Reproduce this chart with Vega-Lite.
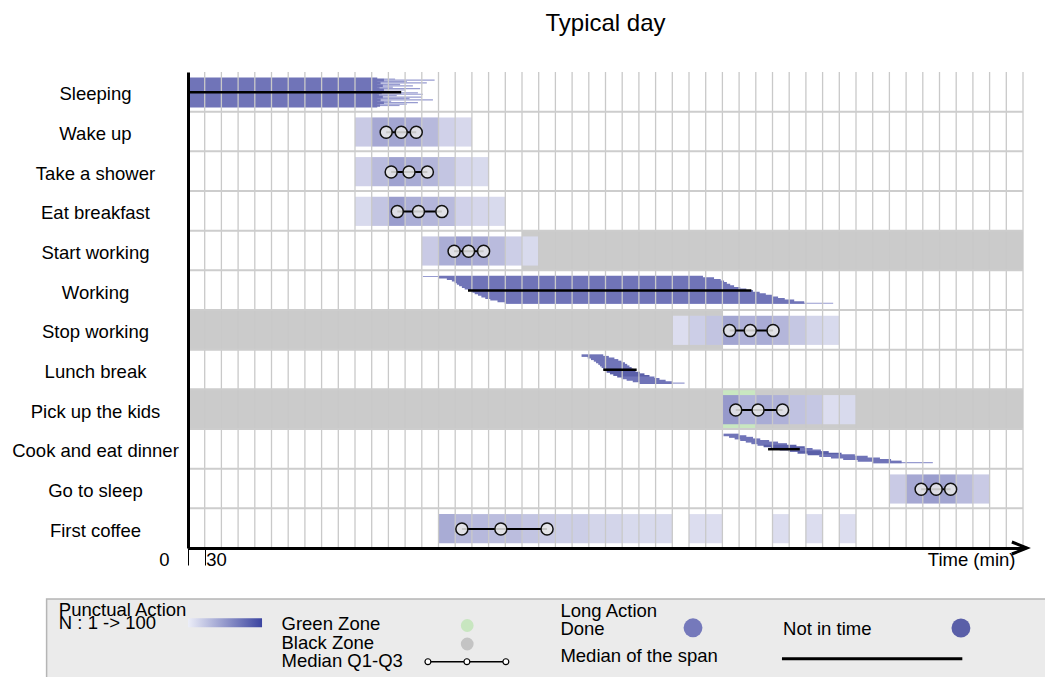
{
  "$schema": "https://vega.github.io/schema/vega-lite/v6.json",
  "width": 835,
  "height": 476,
  "autosize": {"type": "none"},
  "padding": {"left": 188, "top": 72, "right": 22, "bottom": 129},
  "background": "white",
  "config": {"font": "Liberation Sans", "view": {"stroke": null}},
  "title": {"text": "Typical day", "fontSize": 24, "fontWeight": "normal", "font": "Liberation Sans", "color": "black", "anchor": "middle", "frame": "group", "baseline": "alphabetic", "offset": 16},
  "datasets": {
    "zones": [
      {"row": 4, "t0": 600, "t1": 1500, "kind": "black"},
      {"row": 6, "t0": 0, "t1": 960, "kind": "black"},
      {"row": 8, "t0": 0, "t1": 960, "kind": "black"},
      {"row": 8, "t0": 1020, "t1": 1500, "kind": "black"},
      {"row": 8, "t0": 960, "t1": 1020, "kind": "green"}
    ],
    "cells": [
      {"row": 1, "t0": 300, "t1": 330, "n": 18}, {"row": 1, "t0": 330, "t1": 360, "n": 38}, {"row": 1, "t0": 360, "t1": 390, "n": 40}, {"row": 1, "t0": 390, "t1": 420, "n": 38}, {"row": 1, "t0": 420, "t1": 450, "n": 28}, {"row": 1, "t0": 450, "t1": 480, "n": 14}, {"row": 1, "t0": 480, "t1": 510, "n": 10},
      {"row": 2, "t0": 300, "t1": 330, "n": 14}, {"row": 2, "t0": 330, "t1": 360, "n": 27}, {"row": 2, "t0": 360, "t1": 390, "n": 42}, {"row": 2, "t0": 390, "t1": 420, "n": 36}, {"row": 2, "t0": 420, "t1": 450, "n": 30}, {"row": 2, "t0": 450, "t1": 480, "n": 21}, {"row": 2, "t0": 480, "t1": 510, "n": 11}, {"row": 2, "t0": 510, "t1": 540, "n": 9},
      {"row": 3, "t0": 300, "t1": 330, "n": 9}, {"row": 3, "t0": 330, "t1": 360, "n": 21}, {"row": 3, "t0": 360, "t1": 390, "n": 45}, {"row": 3, "t0": 390, "t1": 420, "n": 35}, {"row": 3, "t0": 420, "t1": 450, "n": 30}, {"row": 3, "t0": 450, "t1": 480, "n": 27}, {"row": 3, "t0": 480, "t1": 510, "n": 14}, {"row": 3, "t0": 510, "t1": 540, "n": 11}, {"row": 3, "t0": 540, "t1": 570, "n": 9},
      {"row": 4, "t0": 420, "t1": 450, "n": 18}, {"row": 4, "t0": 450, "t1": 480, "n": 35}, {"row": 4, "t0": 480, "t1": 510, "n": 44}, {"row": 4, "t0": 510, "t1": 540, "n": 38}, {"row": 4, "t0": 540, "t1": 570, "n": 27}, {"row": 4, "t0": 570, "t1": 600, "n": 16}, {"row": 4, "t0": 600, "t1": 630, "n": 9},
      {"row": 6, "t0": 870, "t1": 900, "n": 7}, {"row": 6, "t0": 900, "t1": 930, "n": 16}, {"row": 6, "t0": 930, "t1": 960, "n": 22}, {"row": 6, "t0": 960, "t1": 990, "n": 40}, {"row": 6, "t0": 990, "t1": 1020, "n": 33}, {"row": 6, "t0": 1020, "t1": 1050, "n": 36}, {"row": 6, "t0": 1050, "t1": 1080, "n": 30}, {"row": 6, "t0": 1080, "t1": 1110, "n": 20}, {"row": 6, "t0": 1110, "t1": 1140, "n": 12}, {"row": 6, "t0": 1140, "t1": 1170, "n": 9},
      {"row": 8, "t0": 960, "t1": 990, "n": 47}, {"row": 8, "t0": 990, "t1": 1020, "n": 32}, {"row": 8, "t0": 1020, "t1": 1050, "n": 36}, {"row": 8, "t0": 1050, "t1": 1080, "n": 33}, {"row": 8, "t0": 1080, "t1": 1110, "n": 23}, {"row": 8, "t0": 1110, "t1": 1140, "n": 20}, {"row": 8, "t0": 1140, "t1": 1170, "n": 7}, {"row": 8, "t0": 1170, "t1": 1200, "n": 9},
      {"row": 10, "t0": 1260, "t1": 1290, "n": 18}, {"row": 10, "t0": 1290, "t1": 1320, "n": 38}, {"row": 10, "t0": 1320, "t1": 1350, "n": 45}, {"row": 10, "t0": 1350, "t1": 1380, "n": 40}, {"row": 10, "t0": 1380, "t1": 1410, "n": 27}, {"row": 10, "t0": 1410, "t1": 1440, "n": 18},
      {"row": 11, "t0": 450, "t1": 480, "n": 36}, {"row": 11, "t0": 480, "t1": 510, "n": 30}, {"row": 11, "t0": 510, "t1": 540, "n": 28}, {"row": 11, "t0": 540, "t1": 570, "n": 26}, {"row": 11, "t0": 570, "t1": 600, "n": 26}, {"row": 11, "t0": 600, "t1": 630, "n": 21}, {"row": 11, "t0": 630, "t1": 660, "n": 18}, {"row": 11, "t0": 660, "t1": 690, "n": 16}, {"row": 11, "t0": 690, "t1": 720, "n": 16}, {"row": 11, "t0": 720, "t1": 750, "n": 12}, {"row": 11, "t0": 750, "t1": 780, "n": 12}, {"row": 11, "t0": 780, "t1": 810, "n": 9}, {"row": 11, "t0": 810, "t1": 840, "n": 9}, {"row": 11, "t0": 840, "t1": 870, "n": 9}, {"row": 11, "t0": 900, "t1": 930, "n": 7}, {"row": 11, "t0": 930, "t1": 960, "n": 7}, {"row": 11, "t0": 1050, "t1": 1080, "n": 7}, {"row": 11, "t0": 1110, "t1": 1140, "n": 7}, {"row": 11, "t0": 1170, "t1": 1200, "n": 7}
    ],
    "quartiles": [
      {"row": 1, "q1": 356, "med": 383, "q3": 410},
      {"row": 2, "q1": 365, "med": 397, "q3": 430},
      {"row": 3, "q1": 376, "med": 414, "q3": 456},
      {"row": 4, "q1": 478, "med": 504, "q3": 531},
      {"row": 6, "q1": 973, "med": 1010, "q3": 1051},
      {"row": 8, "q1": 984, "med": 1024, "q3": 1068},
      {"row": 10, "q1": 1317, "med": 1344, "q3": 1370},
      {"row": 11, "q1": 492, "med": 562, "q3": 645}
    ],
    "people": [
      {"p": 0.17, "start": 0, "end": 340, "status": "done"}, {"p": 0.2055, "start": 0, "end": 352, "status": "done"}, {"p": 0.241, "start": 0, "end": 340, "status": "done"}, {"p": 0.2765, "start": 0, "end": 346, "status": "done"},
      {"p": 0.312, "start": 0, "end": 340, "status": "done"}, {"p": 0.3475, "start": 0, "end": 350, "status": "done"}, {"p": 0.383, "start": 0, "end": 340, "status": "done"}, {"p": 0.4185, "start": 0, "end": 344, "status": "done"},
      {"p": 0.454, "start": 0, "end": 352, "status": "done"}, {"p": 0.4895, "start": 0, "end": 340, "status": "done"}, {"p": 0.525, "start": 0, "end": 348, "status": "done"}, {"p": 0.5605, "start": 0, "end": 340, "status": "done"},
      {"p": 0.596, "start": 0, "end": 343, "status": "done"}, {"p": 0.6315, "start": 0, "end": 350, "status": "done"}, {"p": 0.667, "start": 0, "end": 340, "status": "done"}, {"p": 0.7025, "start": 0, "end": 346, "status": "done"},
      {"p": 0.738, "start": 0, "end": 340, "status": "done"}, {"p": 0.7735, "start": 0, "end": 352, "status": "done"}, {"p": 0.809, "start": 0, "end": 340, "status": "done"}, {"p": 0.8445, "start": 0, "end": 345, "status": "done"}, {"p": 0.865, "start": 0, "end": 340, "status": "done"},
      {"p": 5.17, "start": 450, "end": 925, "status": "done"}, {"p": 5.21, "start": 465, "end": 945, "status": "done"}, {"p": 5.25, "start": 474, "end": 957, "status": "done"}, {"p": 5.29, "start": 479, "end": 963, "status": "done"},
      {"p": 5.33, "start": 483, "end": 968, "status": "done"}, {"p": 5.37, "start": 487, "end": 974, "status": "done"}, {"p": 5.41, "start": 492, "end": 981, "status": "done"}, {"p": 5.45, "start": 497, "end": 992, "status": "done"},
      {"p": 5.49, "start": 503, "end": 1003, "status": "done"}, {"p": 5.53, "start": 509, "end": 1015, "status": "done"}, {"p": 5.57, "start": 515, "end": 1027, "status": "done"}, {"p": 5.61, "start": 521, "end": 1038, "status": "done"},
      {"p": 5.65, "start": 527, "end": 1049, "status": "done"}, {"p": 5.69, "start": 534, "end": 1060, "status": "done"}, {"p": 5.73, "start": 543, "end": 1072, "status": "done"}, {"p": 5.77, "start": 556, "end": 1089, "status": "done"},
      {"p": 5.81, "start": 569, "end": 1107, "status": "done"},
      {"p": 7.15, "start": 707, "end": 746, "status": "done"}, {"p": 7.19, "start": 718, "end": 756, "status": "done"}, {"p": 7.23, "start": 724, "end": 766, "status": "done"}, {"p": 7.27, "start": 729, "end": 773, "status": "done"},
      {"p": 7.31, "start": 733, "end": 779, "status": "done"}, {"p": 7.35, "start": 737, "end": 785, "status": "done"}, {"p": 7.39, "start": 740, "end": 789, "status": "done"}, {"p": 7.43, "start": 743, "end": 793, "status": "done"},
      {"p": 7.47, "start": 746, "end": 797, "status": "done"}, {"p": 7.51, "start": 749, "end": 800, "status": "late"}, {"p": 7.55, "start": 752, "end": 804, "status": "late"}, {"p": 7.59, "start": 758, "end": 812, "status": "late"},
      {"p": 7.63, "start": 764, "end": 820, "status": "late"}, {"p": 7.67, "start": 771, "end": 829, "status": "late"}, {"p": 7.71, "start": 779, "end": 838, "status": "done"}, {"p": 7.75, "start": 788, "end": 847, "status": "done"},
      {"p": 7.79, "start": 799, "end": 858, "status": "done"}, {"p": 7.83, "start": 811, "end": 870, "status": "done"},
      {"p": 9.15, "start": 962, "end": 990, "status": "done"}, {"p": 9.19, "start": 972, "end": 1003, "status": "done"}, {"p": 9.23, "start": 982, "end": 1015, "status": "done"}, {"p": 9.27, "start": 992, "end": 1028, "status": "done"},
      {"p": 9.31, "start": 1002, "end": 1044, "status": "done"}, {"p": 9.35, "start": 1012, "end": 1060, "status": "done"}, {"p": 9.39, "start": 1023, "end": 1076, "status": "done"}, {"p": 9.43, "start": 1034, "end": 1093, "status": "late"},
      {"p": 9.47, "start": 1047, "end": 1108, "status": "late"}, {"p": 9.51, "start": 1063, "end": 1122, "status": "done"}, {"p": 9.55, "start": 1079, "end": 1137, "status": "done"}, {"p": 9.59, "start": 1095, "end": 1151, "status": "late"},
      {"p": 9.63, "start": 1113, "end": 1174, "status": "late"}, {"p": 9.67, "start": 1134, "end": 1198, "status": "done"}, {"p": 9.71, "start": 1155, "end": 1221, "status": "done"}, {"p": 9.75, "start": 1177, "end": 1243, "status": "done"},
      {"p": 9.79, "start": 1203, "end": 1263, "status": "done"}, {"p": 9.83, "start": 1230, "end": 1282, "status": "done"}
    ],
    "thin": [
      {"p": 0.18, "start": 330, "end": 372}, {"p": 0.2055, "start": 330, "end": 443}, {"p": 0.241, "start": 330, "end": 393}, {"p": 0.2765, "start": 330, "end": 429},
      {"p": 0.312, "start": 330, "end": 381}, {"p": 0.3475, "start": 330, "end": 404}, {"p": 0.383, "start": 330, "end": 368}, {"p": 0.4185, "start": 330, "end": 417},
      {"p": 0.454, "start": 330, "end": 390}, {"p": 0.4895, "start": 330, "end": 360}, {"p": 0.525, "start": 330, "end": 413}, {"p": 0.5605, "start": 330, "end": 422},
      {"p": 0.596, "start": 330, "end": 375}, {"p": 0.6315, "start": 330, "end": 420}, {"p": 0.667, "start": 330, "end": 398}, {"p": 0.7025, "start": 330, "end": 440},
      {"p": 0.738, "start": 330, "end": 365}, {"p": 0.7735, "start": 330, "end": 413}, {"p": 0.809, "start": 330, "end": 393}, {"p": 0.8445, "start": 330, "end": 380},
      {"p": 5.155, "start": 422, "end": 925}, {"p": 5.83, "start": 572, "end": 1159},
      {"p": 7.845, "start": 811, "end": 892},
      {"p": 9.85, "start": 1230, "end": 1338}
    ],
    "medians": [
      {"row": 0, "t0": 0, "t1": 383},
      {"row": 5, "t0": 503, "t1": 1012},
      {"row": 7, "t0": 746, "t1": 806},
      {"row": 9, "t0": 1042, "t1": 1099}
    ],
    "vgrid": [
      {"t": 30}, {"t": 60}, {"t": 90}, {"t": 120}, {"t": 150}, {"t": 180}, {"t": 210}, {"t": 240}, {"t": 270}, {"t": 300},
      {"t": 330}, {"t": 360}, {"t": 390}, {"t": 420}, {"t": 450}, {"t": 480}, {"t": 510}, {"t": 540}, {"t": 570}, {"t": 600},
      {"t": 630}, {"t": 660}, {"t": 690}, {"t": 720}, {"t": 750}, {"t": 780}, {"t": 810}, {"t": 840}, {"t": 870}, {"t": 900},
      {"t": 930}, {"t": 960}, {"t": 990}, {"t": 1020}, {"t": 1050}, {"t": 1080}, {"t": 1110}, {"t": 1140}, {"t": 1170}, {"t": 1200},
      {"t": 1230}, {"t": 1260}, {"t": 1290}, {"t": 1320}, {"t": 1350}, {"t": 1380}, {"t": 1410}, {"t": 1440}, {"t": 1470}, {"t": 1500}
    ],
    "hgrid": [
      {"r": 1}, {"r": 2}, {"r": 3}, {"r": 4}, {"r": 5}, {"r": 6}, {"r": 7}, {"r": 8}, {"r": 9}, {"r": 10}, {"r": 11}
    ],
    "legendText": [
      {"label": "Punctual Action", "lx": -232, "ly": 13.714},
      {"label": "N : 1 -> 100", "lx": -232, "ly": 14.04},
      {"label": "Green Zone", "lx": 168, "ly": 14.055},
      {"label": "Black Zone", "lx": 168, "ly": 14.534},
      {"label": "Median Q1-Q3", "lx": 168, "ly": 15.012},
      {"label": "Long Action", "lx": 669, "ly": 13.727},
      {"label": "Done", "lx": 669, "ly": 14.193},
      {"label": "Median of the span", "lx": 669, "ly": 14.866},
      {"label": "Not in time", "lx": 1069, "ly": 14.193}
    ]
  },
  "layer": [
    {
      "data": {"name": "zones"},
      "mark": {"type": "rect", "y2Offset": 39.667},
      "encoding": {
        "x": {"field": "t0", "type": "quantitative",
          "scale": {"domain": [0, 1500], "nice": false, "zero": false},
          "axis": {
            "values": [0, 30], "grid": false, "zindex": 1,
            "title": "Time (min)", "titleFontSize": 18.5, "titleFontWeight": "normal", "titleColor": "black", "titleFont": "Liberation Sans",
            "titleAnchor": "end", "titleAlign": "right", "titleBaseline": "alphabetic", "titleX": 827, "titleY": 17,
            "domainColor": "black", "domainWidth": 3,
            "tickColor": "black", "tickSize": 17, "tickWidth": 1,
            "labelFontSize": 18.5, "labelColor": "black", "labelFont": "Liberation Sans", "labelBaseline": "alphabetic", "labelPadding": 0,
            "labelAlign": {"condition": {"test": "datum.value === 0", "value": "right"}, "value": "left"},
            "labelOffset": {"condition": {"test": "datum.value === 0", "value": -19}, "value": 1},
            "labelFlush": false, "labelOverlap": false, "labelBound": false
          }
        },
        "x2": {"field": "t1"},
        "y": {"field": "row", "type": "quantitative",
          "scale": {"domain": [0, 12], "reverse": true, "nice": false, "zero": false},
          "axis": {
            "values": [0.5, 1.5, 2.5, 3.5, 4.5, 5.5, 6.5, 7.5, 8.5, 9.5, 10.5, 11.5],
            "labelExpr": "['Sleeping','Wake up','Take a shower','Eat breakfast','Start working','Working','Stop working','Lunch break','Pick up the kids','Cook and eat dinner','Go to sleep','First coffee'][floor(datum.value)]",
            "title": null, "ticks": false, "grid": false, "zindex": 1,
            "domainColor": "black", "domainWidth": 3,
            "labelFontSize": 18.5, "labelColor": "black", "labelFont": "Liberation Sans",
            "labelAlign": "center", "labelBaseline": "middle", "labelPadding": 93, "labelOffset": 2,
            "labelOverlap": false, "labelBound": false, "labelLimit": 0
          }
        },
        "y2": {"field": "row"},
        "color": {"field": "kind", "type": "nominal", "scale": {"domain": ["black", "green"], "range": ["#cbcbcb", "#c9e7c1"]}, "legend": null}
      }
    },
    {
      "data": {"name": "cells"},
      "mark": {"type": "rect", "yOffset": 5.75, "y2Offset": 34.9},
      "encoding": {
        "x": {"field": "t0", "type": "quantitative"},
        "x2": {"field": "t1"},
        "y": {"field": "row", "type": "quantitative"},
        "y2": {"field": "row"},
        "fill": {"field": "n", "type": "quantitative", "scale": {"domain": [0, 100], "range": ["#e8e9f5", "#3a3f9c"], "interpolate": "rgb"}, "legend": null}
      }
    },
    {
      "data": {"name": "thin"},
      "mark": {"type": "rule", "color": "#979bd0", "strokeWidth": 1.2},
      "encoding": {
        "y": {"field": "p", "type": "quantitative"},
        "x": {"field": "start", "type": "quantitative"},
        "x2": {"field": "end"}
      }
    },
    {
      "data": {"name": "people"},
      "mark": {"type": "rule", "strokeWidth": 2.6},
      "encoding": {
        "y": {"field": "p", "type": "quantitative"},
        "x": {"field": "start", "type": "quantitative"},
        "x2": {"field": "end"},
        "stroke": {"field": "status", "type": "nominal", "scale": {"domain": ["done", "late"], "range": ["#7074b8", "#5a5fa8"]}, "legend": null}
      }
    },
    {
      "data": {"name": "vgrid"},
      "mark": {"type": "rule", "color": "#c9c9c9", "strokeWidth": 1.3},
      "encoding": {"x": {"field": "t", "type": "quantitative"}}
    },
    {
      "data": {"name": "hgrid"},
      "mark": {"type": "rule", "color": "#cdcdcd", "strokeWidth": 2},
      "encoding": {"y": {"field": "r", "type": "quantitative"}}
    },
    {
      "data": {"name": "medians"},
      "mark": {"type": "rule", "color": "black", "strokeWidth": 2.5, "yOffset": 20.2},
      "encoding": {
        "y": {"field": "row", "type": "quantitative"},
        "x": {"field": "t0", "type": "quantitative"},
        "x2": {"field": "t1"}
      }
    },
    {
      "data": {"name": "quartiles"},
      "mark": {"type": "rule", "color": "black", "strokeWidth": 2, "yOffset": 20.6},
      "encoding": {
        "y": {"field": "row", "type": "quantitative"},
        "x": {"field": "q1", "type": "quantitative"},
        "x2": {"field": "q3"}
      }
    },
    {
      "data": {"name": "quartiles"},
      "transform": [{"fold": ["q1", "med", "q3"], "as": ["which", "t"]}],
      "mark": {"type": "point", "shape": "circle", "filled": true, "size": 145, "fill": "#e9e9e9", "fillOpacity": 0.85, "stroke": "#111111", "strokeWidth": 1.5, "opacity": 1, "yOffset": 20.6},
      "encoding": {
        "y": {"field": "row", "type": "quantitative"},
        "x": {"field": "t", "type": "quantitative"}
      }
    },
    {
      "data": {"values": [{}]},
      "mark": {"type": "rule", "color": "black", "strokeWidth": 3},
      "encoding": {
        "x": {"datum": 1495, "type": "quantitative"},
        "x2": {"datum": 1506},
        "y": {"datum": 12, "type": "quantitative"}
      }
    },
    {
      "data": {"values": [{}]},
      "mark": {"type": "point", "shape": "M-1,-0.4L0,0L-1,0.4", "size": 900, "filled": false, "stroke": "black", "strokeWidth": 3, "opacity": 1},
      "encoding": {
        "x": {"datum": 1507, "type": "quantitative"},
        "y": {"datum": 12, "type": "quantitative"}
      }
    },
    {
      "data": {"values": [{}]},
      "mark": {"type": "rect", "fill": "#ebebeb", "stroke": "#b5b5b5", "strokeWidth": 1.5},
      "encoding": {
        "x": {"datum": -254, "type": "quantitative"},
        "x2": {"datum": 1600},
        "y": {"datum": 13.285, "type": "quantitative"},
        "y2": {"datum": 15.8}
      }
    },
    {
      "data": {"values": [{}]},
      "mark": {"type": "rect", "fill": {"gradient": "linear", "x1": 0, "y1": 0, "x2": 1, "y2": 0, "stops": [{"offset": 0, "color": "#eceef8"}, {"offset": 1, "color": "#3b44a0"}]}},
      "encoding": {
        "x": {"datum": 0, "type": "quantitative"},
        "x2": {"datum": 133},
        "y": {"datum": 13.772, "type": "quantitative"},
        "y2": {"datum": 13.999}
      }
    },
    {
      "data": {"name": "legendText"},
      "mark": {"type": "text", "align": "left", "baseline": "alphabetic", "fontSize": 18.5, "font": "Liberation Sans", "color": "black"},
      "encoding": {
        "x": {"field": "lx", "type": "quantitative"},
        "y": {"field": "ly", "type": "quantitative"},
        "text": {"field": "label"}
      }
    },
    {
      "data": {"values": [{}]},
      "mark": {"type": "point", "shape": "circle", "filled": true, "size": 163, "color": "#c8e6c0", "opacity": 1},
      "encoding": {
        "x": {"datum": 501.6, "type": "quantitative"},
        "y": {"datum": 13.954, "type": "quantitative"}
      }
    },
    {
      "data": {"values": [{}]},
      "mark": {"type": "point", "shape": "circle", "filled": true, "size": 163, "color": "#c4c4c4", "opacity": 1},
      "encoding": {
        "x": {"datum": 501.6, "type": "quantitative"},
        "y": {"datum": 14.42, "type": "quantitative"}
      }
    },
    {
      "data": {"values": [{}]},
      "mark": {"type": "rule", "color": "black", "strokeWidth": 1.5},
      "encoding": {
        "x": {"datum": 431, "type": "quantitative"},
        "x2": {"datum": 571},
        "y": {"datum": 14.866, "type": "quantitative"}
      }
    },
    {
      "data": {"values": [{"lx": 431}, {"lx": 501}, {"lx": 571}]},
      "mark": {"type": "point", "shape": "circle", "filled": true, "size": 35, "fill": "white", "stroke": "black", "strokeWidth": 1.2, "opacity": 1},
      "encoding": {
        "x": {"field": "lx", "type": "quantitative"},
        "y": {"datum": 14.866, "type": "quantitative"}
      }
    },
    {
      "data": {"values": [{}]},
      "mark": {"type": "point", "shape": "circle", "filled": true, "size": 357, "color": "#7579bb", "opacity": 1},
      "encoding": {
        "x": {"datum": 907.2, "type": "quantitative"},
        "y": {"datum": 14.012, "type": "quantitative"}
      }
    },
    {
      "data": {"values": [{}]},
      "mark": {"type": "point", "shape": "circle", "filled": true, "size": 357, "color": "#5a5fa8", "opacity": 1},
      "encoding": {
        "x": {"datum": 1388.5, "type": "quantitative"},
        "y": {"datum": 14.017, "type": "quantitative"}
      }
    },
    {
      "data": {"values": [{}]},
      "mark": {"type": "rule", "color": "black", "strokeWidth": 3},
      "encoding": {
        "x": {"datum": 1067, "type": "quantitative"},
        "x2": {"datum": 1391},
        "y": {"datum": 14.79, "type": "quantitative"}
      }
    }
  ]
}
